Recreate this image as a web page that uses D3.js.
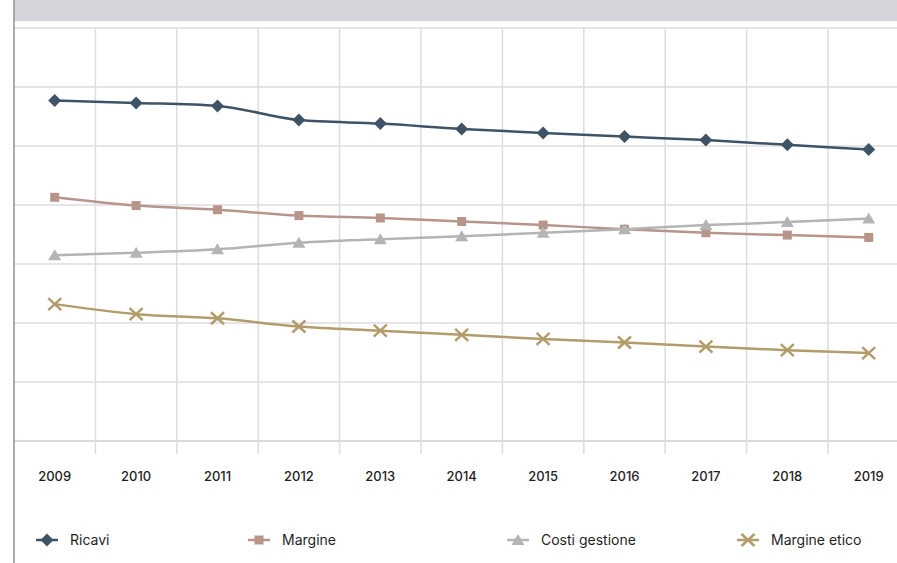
<!DOCTYPE html>
<html>
<head>
<meta charset="utf-8">
<script src="https://cdn.jsdelivr.net/npm/d3@7"></script>
<style>
  html, body { margin: 0; padding: 0; background: #fff; }
  svg { display: block; font-family: Inter, "Noto Sans", sans-serif; }
</style>
</head>
<body>
<svg id="chart" width="897" height="563"></svg>
<script>
// Years on the category axis
const years = ["2009", "2010", "2011", "2012", "2013", "2014", "2015", "2016", "2017", "2018", "2019"];

// Series values
const ricavi        = [57.7, 57.3, 56.8, 54.4, 53.8, 52.9, 52.2, 51.6, 51.0, 50.2, 49.4];
const margine       = [41.3, 39.9, 39.2, 38.2, 37.8, 37.2, 36.6, 35.9, 35.3, 34.9, 34.5];
const costiGestione = [31.5, 31.9, 32.5, 33.6, 34.2, 34.7, 35.3, 35.9, 36.6, 37.1, 37.7];
const margineEtico  = [23.2, 21.5, 20.8, 19.4, 18.7, 18.0, 17.3, 16.7, 16.0, 15.4, 14.9];

// Grid values on the value axis
const yTicks = [0, 10, 20, 30, 40, 50, 60, 70];

const seriesNames = ["Ricavi", "Margine", "Costi gestione", "Margine etico"];

const series = [
  { name: seriesNames[0], values: ricavi,        color: "#3e5466", marker: "diamond"  },
  { name: seriesNames[1], values: margine,       color: "#b8958a", marker: "square"   },
  { name: seriesNames[2], values: costiGestione, color: "#b4b4b4", marker: "triangle" },
  { name: seriesNames[3], values: margineEtico,  color: "#b39c6c", marker: "cross"    }
];

const svg = d3.select("#chart");
const W = 897, H = 563;

const plotLeft = 14, bandW = 81.4;
const x = d3.scaleBand().domain(years).range([plotLeft, plotLeft + bandW * years.length]).paddingInner(0).paddingOuter(0);
const y = d3.scaleLinear().domain([0, 70]).range([441, 28]);
const xc = d => x(d) + x.bandwidth() / 2;

// header band
svg.append("rect").attr("x", plotLeft).attr("y", 0).attr("width", W - plotLeft).attr("height", 21).attr("fill", "#d4d5da");

// horizontal grid
const gGrid = svg.append("g");
gGrid.selectAll("line.h").data(yTicks).join("line")
  .attr("x1", plotLeft).attr("x2", W)
  .attr("y1", d => y(d)).attr("y2", d => y(d))
  .attr("stroke", d => d === 0 ? "#cdcdd4" : "#dcdce1").attr("stroke-width", 1.5);

// vertical grid at category boundaries, extending below the plot as ticks
gGrid.selectAll("line.v").data(years.slice(1)).join("line")
  .attr("x1", d => x(d)).attr("x2", d => x(d))
  .attr("y1", y(70)).attr("y2", 454)
  .attr("stroke", "#dcdce1").attr("stroke-width", 1.5);

// left axis line
svg.append("line").attr("x1", plotLeft).attr("x2", plotLeft).attr("y1", 0).attr("y2", H)
  .attr("stroke", "#8a93a1").attr("stroke-width", 1.5);

// year labels
svg.append("g").selectAll("text").data(years).join("text")
  .attr("x", d => xc(d)).attr("y", 481)
  .attr("text-anchor", "middle")
  .attr("font-size", 13).attr("font-weight", 500).attr("fill", "#1f1f1f")
  .text(d => d);

// marker drawing
function drawMarker(g, type, color, cx, cy) {
  if (type === "diamond") {
    g.append("path").attr("d", `M${cx},${cy - 6.5}L${cx + 6.5},${cy}L${cx},${cy + 6.5}L${cx - 6.5},${cy}Z`).attr("fill", color);
  } else if (type === "square") {
    g.append("rect").attr("x", cx - 4.5).attr("y", cy - 4.5).attr("width", 9).attr("height", 9).attr("fill", color);
  } else if (type === "triangle") {
    g.append("path").attr("d", `M${cx},${cy - 6}L${cx + 6.5},${cy + 5}L${cx - 6.5},${cy + 5}Z`).attr("fill", color);
  } else if (type === "cross") {
    g.append("path").attr("d", `M${cx - 6.5},${cy - 6}L${cx + 6.5},${cy + 6}M${cx - 6.5},${cy + 6}L${cx + 6.5},${cy - 6}`)
      .attr("stroke", color).attr("stroke-width", 2.5).attr("fill", "none");
  }
}

const line = d3.line()
  .x((d, i) => xc(years[i]))
  .y(d => y(d))
  .curve(d3.curveMonotoneX);

series.forEach(s => {
  const g = svg.append("g");
  g.append("path").attr("d", line(s.values))
    .attr("fill", "none").attr("stroke", s.color).attr("stroke-width", 2.5);
  s.values.forEach((v, i) => drawMarker(g, s.marker, s.color, xc(years[i]), y(v)));
});

// legend
const legendX = [36, 248, 507, 737];
const legendY = 540;
const lg = svg.append("g");
series.forEach((s, i) => {
  const x0 = legendX[i];
  lg.append("line").attr("x1", x0).attr("x2", x0 + 22).attr("y1", legendY).attr("y2", legendY)
    .attr("stroke", s.color).attr("stroke-width", 2.5);
  drawMarker(lg, s.marker, s.color, x0 + 11, legendY);
  lg.append("text").attr("x", x0 + 34).attr("y", legendY + 5)
    .attr("font-size", 14).attr("fill", "#1f1f1f")
    .text(s.name);
});
</script>
</body>
</html>
